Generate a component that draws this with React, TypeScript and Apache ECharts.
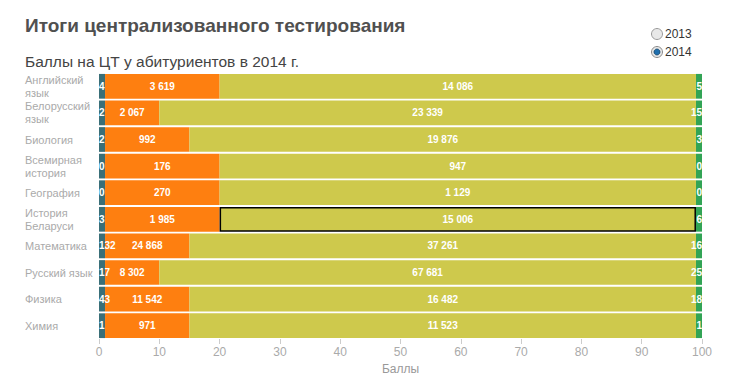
import React, { useEffect, useRef } from "react";
import * as echarts from "echarts";

const categories = [
  "Английский\nязык",
  "Белорусский\nязык",
  "Биология",
  "Всемирная\nистория",
  "География",
  "История\nБеларуси",
  "Математика",
  "Русский язык",
  "Физика",
  "Химия",
];
// score threshold between the low (orange) and the middle (olive) band
const thresholds = [20, 10, 15, 20, 20, 20, 15, 10, 15, 15];
const zeroCounts = [4, 2, 2, 0, 0, 3, 132, 17, 43, 1];
const lowCounts = [3619, 2067, 992, 176, 270, 1985, 24868, 8302, 11542, 971];
const midCounts = [14086, 23339, 19876, 947, 1129, 15006, 37261, 67681, 16482, 11523];
const fullCounts = [5, 15, 3, 0, 0, 6, 16, 25, 18, 1];
const xTicks = [0, 100, 10];
const highlighted = 5;

const fmt = (n: number) => String(n).replace(/\B(?=(\d{3})+(?!\d))/g, " ");

const FONT = '"Liberation Sans", Arial, sans-serif';

export default function App() {
  const ref = useRef<HTMLDivElement>(null);
  useEffect(() => {
    document.body.style.margin = "0";
    const chart = echarts.init(ref.current!, null, { renderer: "svg" });
    const lbl = (position: any, counts: number[]) => ({
      show: true,
      position,
      distance: 0,
      color: "#fff",
      fontSize: 10,
      fontWeight: "bold",
      fontFamily: FONT,
      formatter: (p: any) => fmt(counts[p.dataIndex]),
    });
    const mk = (name: string, color: string, vals: number[], counts: number[], pos: any, hl = false) => ({
      name,
      type: "bar",
      stack: "s",
      barCategoryGap: "7%",
      itemStyle: { color },
      label: lbl(pos, counts),
      data: vals.map((v, i) =>
        hl && i === highlighted
          ? { value: v, itemStyle: { color, borderColor: "#000", borderWidth: 1.5 } }
          : v
      ),
    });
    chart.setOption({
      animation: false,
      title: [
        {
          text: "Итоги централизованного тестирования",
          left: 20,
          top: 11,
          textStyle: { fontSize: 19, fontWeight: "bold", color: "#505050", fontFamily: FONT },
        },
        {
          text: "Баллы на ЦТ у абитуриентов в 2014 г.",
          left: 20,
          top: 48,
          textStyle: { fontSize: 15.5, fontWeight: "normal", color: "#444", fontFamily: FONT },
        },
      ],
      graphic: [
        {
          type: "circle",
          shape: { cx: 657, cy: 34, r: 5.5 },
          style: { fill: "#e8e8e8", stroke: "#9a9a9a", lineWidth: 1 },
        },
        {
          type: "text",
          x: 665,
          y: 28,
          style: { text: "2013", fontSize: 12, fill: "#333", fontFamily: FONT },
        },
        {
          type: "circle",
          shape: { cx: 657, cy: 52, r: 5.5 },
          style: { fill: "#e8e8e8", stroke: "#8a8a8a", lineWidth: 1 },
        },
        {
          type: "circle",
          shape: { cx: 657, cy: 52, r: 3 },
          style: { fill: "#1f6fae", stroke: "#0d3f66", lineWidth: 0.8 },
        },
        {
          type: "text",
          x: 665,
          y: 46,
          style: { text: "2014", fontSize: 12, fill: "#333", fontFamily: FONT },
        },
      ],
      grid: { left: 99, right: 31, top: 73, bottom: 48 },
      xAxis: {
        type: "value",
        min: xTicks[0],
        max: xTicks[1],
        interval: xTicks[2],
        name: "Баллы",
        nameLocation: "middle",
        nameGap: 24,
        nameTextStyle: { color: "#999", fontSize: 12, fontFamily: FONT },
        axisLine: { show: false },
        axisTick: { show: true, length: 5, lineStyle: { color: "#ccc" } },
        splitLine: { show: false },
        axisLabel: { color: "#aaa", fontSize: 12, margin: 7, fontFamily: FONT },
      },
      yAxis: {
        type: "category",
        inverse: true,
        data: categories,
        axisLine: { show: false },
        axisTick: { show: false },
        axisLabel: {
          color: "#aaa",
          fontSize: 11,
          lineHeight: 13,
          align: "left",
          margin: 74,
          fontFamily: FONT,
        },
      },
      series: [
        mk("0", "#3a6f78", thresholds.map(() => 1), zeroCounts, "insideLeft"),
        mk("low", "#fe7f10", thresholds.map((t) => t - 1), lowCounts, "inside"),
        mk("mid", "#cec94c", thresholds.map((t) => 99 - t), midCounts, "inside", true),
        mk("100", "#32a455", thresholds.map(() => 1), fullCounts, "insideRight"),
      ],
    });
    return () => chart.dispose();
  }, []);
  return <div ref={ref} style={{ width: 733, height: 387 }} />;
}
